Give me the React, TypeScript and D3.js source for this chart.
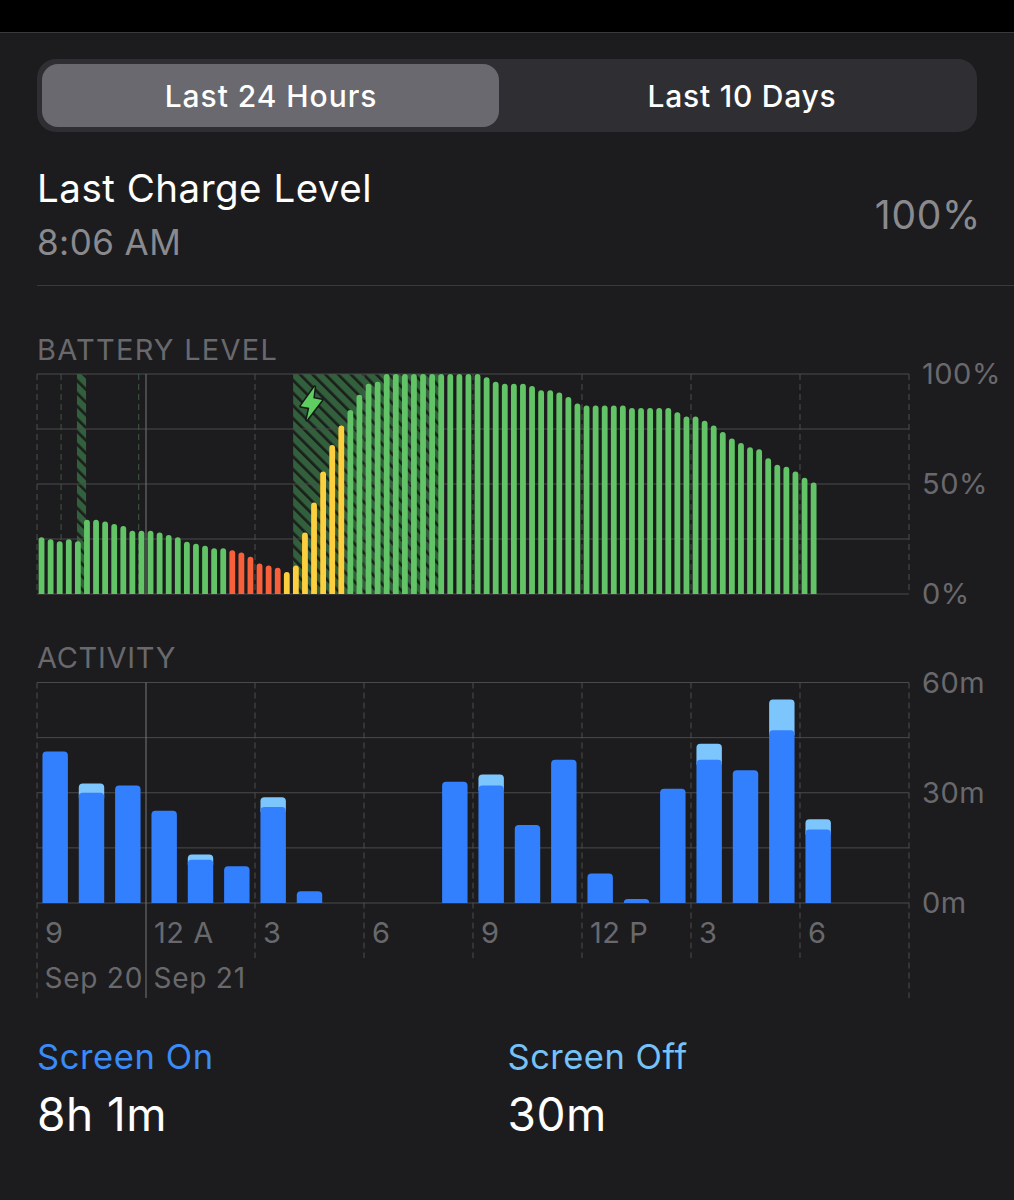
import React from "react";
import * as d3 from "d3";

const batteryLevels = [25.8,24.9,24,24.9,24,33.8,33.8,32.9,31.8,30.9,28.8,28.8,28.8,27.9,26.8,25.8,23.8,22.8,21.9,20.8,20.8,19.9,18.9,16.9,13.9,13,11.9,10,13,27.9,41.6,55.7,67.7,76.6,83.6,90.6,95.6,96.5,100,100,100,100,100,100,100,100,100,100,100,98.5,96.5,95.6,95.6,95.6,94.6,92.6,92.6,91.6,89.6,86.6,85.7,85.7,85.7,85.7,85.7,84.6,84.6,84.6,84.6,84.6,82.6,80.7,80.7,78.7,76.6,73.6,70.7,68.6,66.7,65.8,61.7,58.7,57.8,55.7,52.8,50.7];
const batteryColors = batteryLevels.map((_, i) => (i >= 21 && i <= 26 ? "#f8603c" : i >= 27 && i <= 33 ? "#fbcf3e" : "#62c466"));
const chargingSpans = [[4.4, 5.4], [28.2, 44.4]];
const screenOn = [41.2,30,32,25.1,11.8,10,26.1,3.2,0,0,0,33,32,21.2,39,8,1.1,31.1,39,36.1,47,20];
const screenOff = [0,2.5,0,0,1.4,0,2.7,0,0,0,0,0,3,0,0,0,0,0,4.3,0,8.4,2.8];
const batteryTicks = [100, 75, 50, 25, 0];
const batteryLabels = ["100%", "50%", "0%"];
const activityTicks = [60, 45, 30, 15, 0];
const activityLabels = ["60m", "30m", "0m"];
const hourLabels = ["9", "12 A", "3", "6", "9", "12 P", "3", "6"];
const dateLabels = ["Sep 20", "Sep 21"];

const FONT = "Inter, 'Open Sans', sans-serif";
const xQuarter = d3.scaleLinear().domain([0, 96]).range([37, 909]);
const xHour = d3.scaleLinear().domain([0, 24]).range([37, 909]);
const yBattery = d3.scaleLinear().domain([0, 100]).range([594, 374]);
const yActivity = d3.scaleLinear().domain([0, 60]).range([903, 682.5]);
const xBand = d3.scaleBand<number>().domain(d3.range(24)).range([37, 909]).paddingInner(0.3).paddingOuter(0.15);

function topRounded(x0: number, x1: number, y0: number, y1: number, r: number) {
  const p = d3.path();
  const rr = Math.min(r, y0 - y1, (x1 - x0) / 2);
  p.moveTo(x0, y0);
  p.lineTo(x0, y1 + rr);
  p.arcTo(x0, y1, x0 + rr, y1, rr);
  p.lineTo(x1 - rr, y1);
  p.arcTo(x1, y1, x1, y1 + rr, rr);
  p.lineTo(x1, y0);
  p.closePath();
  return p.toString();
}

const GRID = "#4a4a4c";
const DASH = "#4c4c4e";
const LABEL = "#69696d";

export default function App() {
  const hours = d3.range(0, 25, 3);
  return (
    <svg width={1014} height={1200} viewBox="0 0 1014 1200" style={{ position: "absolute", left: 0, top: 0, display: "block" }} fontFamily={FONT}>
      <defs>
        <pattern id="hatch" width={9} height={9} patternUnits="userSpaceOnUse" patternTransform="rotate(-45)">
          <rect width={9} height={9} fill="#33603c" />
          <rect width={2.7} height={9} fill="#1a1f1b" />
        </pattern>
      </defs>
      <rect width={1014} height={1200} fill="#1c1c1e" />
      <rect width={1014} height={32} fill="#000" />
      <line x1={0} x2={1014} y1={32.5} y2={32.5} stroke="#3a3a3c" />

      <rect x={37} y={59} width={940} height={73} rx={19} fill="#2f2f33" />
      <rect x={42} y={64} width={457} height={63} rx={16} fill="#69696f" />
      <text x={271} y={106.5} textAnchor="middle" fontSize={30} fontWeight={500} letterSpacing={0.95} fill="#fff">Last 24 Hours</text>
      <text x={742} y={106.5} textAnchor="middle" fontSize={30} fontWeight={500} letterSpacing={0.75} fill="#fff">Last 10 Days</text>

      <text x={37} y={202} fontSize={38.5} letterSpacing={0.5} fill="#fff">Last Charge Level</text>
      <text x={37} y={255} fontSize={35} letterSpacing={0.45} fill="#8a8a8e">8:06 AM</text>
      <text x={981} y={228.5} textAnchor="end" fontSize={39} letterSpacing={0.7} fill="#8a8a8e">100%</text>
      <line x1={37} x2={1014} y1={285.5} y2={285.5} stroke="#3a3a3c" />

      <text x={37} y={359.5} fontSize={29} letterSpacing={1.25} fill={LABEL}>BATTERY LEVEL</text>
      {chargingSpans.map(([a, b], i) => (
        <rect key={i} x={xQuarter(a)} y={yBattery(100)} width={xQuarter(b) - xQuarter(a)} height={yBattery(0) - yBattery(100)} fill="url(#hatch)" />
      ))}
      {batteryTicks.map((t) => (
        <line key={t} x1={37} x2={909} y1={yBattery(t)} y2={yBattery(t)} stroke={GRID} />
      ))}
      {hours.map((h) => (
        <line key={h} x1={xHour(h)} x2={xHour(h)} y1={yBattery(100)} y2={yBattery(0)} stroke={h === 3 ? "#77777a" : DASH} strokeDasharray={h === 3 ? undefined : "6 4"} />
      ))}
      {[2.65, 11.2].map((q) => (
        <line key={q} x1={xQuarter(q)} x2={xQuarter(q)} y1={yBattery(100)} y2={yBattery(0)} stroke="#3c5a42" strokeDasharray="6 4" />
      ))}
      {batteryLevels.map((v, i) => {
        const c = xQuarter(i + 0.5);
        return <path key={i} d={topRounded(c - 2.9, c + 2.9, yBattery(0), yBattery(v), 2.9)} fill={batteryColors[i]} />;
      })}
      <path d="M314.7 386.7 L300.7 406.3 L309.3 407.7 L306.7 420 L322 400 L313.3 398.3 Z" fill="#5fce60" stroke="#131a15" strokeWidth={3} strokeLinejoin="round" paintOrder="stroke" />
      {batteryLabels.map((t) => (
        <text key={t} x={922} y={yBattery(parseInt(t)) + 10} fontSize={29} letterSpacing={0.5} fill={LABEL}>{t}</text>
      ))}

      <text x={37} y={668} fontSize={29} letterSpacing={0.7} fill={LABEL}>ACTIVITY</text>
      {activityTicks.map((t) => (
        <line key={t} x1={37} x2={909} y1={yActivity(t)} y2={yActivity(t)} stroke={GRID} />
      ))}
      {hours.map((h) => {
        const long = h === 0 || h === 3 || h === 24;
        return (
          <line key={h} x1={xHour(h)} x2={xHour(h)} y1={yActivity(60)} y2={long ? 998 : 958} stroke={h === 3 ? "#77777a" : DASH} strokeDasharray={h === 3 ? undefined : "6 4"} />
        );
      })}
      {screenOn.map((v, i) => {
        const x0 = xBand(i)!;
        const x1 = x0 + xBand.bandwidth();
        const off = screenOff[i];
        return (
          <g key={i}>
            {off > 0 && <path d={topRounded(x0, x1, yActivity(v) + 5, yActivity(v + off), 4)} fill="#7cc5fd" />}
            {v > 0 && <path d={topRounded(x0, x1, yActivity(0), yActivity(v), 4)} fill="#3380fe" />}
          </g>
        );
      })}
      {activityLabels.map((t) => (
        <text key={t} x={922} y={yActivity(parseInt(t)) + 10} fontSize={29} letterSpacing={0.5} fill={LABEL}>{t}</text>
      ))}
      {hourLabels.map((t, i) => (
        <text key={i} x={xHour(i * 3) + 8} y={943} fontSize={29} letterSpacing={0.5} fill={LABEL}>{t}</text>
      ))}
      {dateLabels.map((t, i) => (
        <text key={t} x={xHour(i * 3) + 7.5} y={988} fontSize={28} letterSpacing={0.75} fill={LABEL}>{t}</text>
      ))}
      <text x={37} y={1069} fontSize={34.5} letterSpacing={0.6} fill="#3b8bf6">Screen On</text>
      <text x={507.5} y={1069} fontSize={34.5} letterSpacing={0.5} fill="#76c2f8">Screen Off</text>
      <text x={37} y={1131} fontSize={46} letterSpacing={0.5} fill="#fff">8h 1m</text>
      <text x={507.5} y={1131} fontSize={46} letterSpacing={0.5} fill="#fff">30m</text>
    </svg>
  );
}
